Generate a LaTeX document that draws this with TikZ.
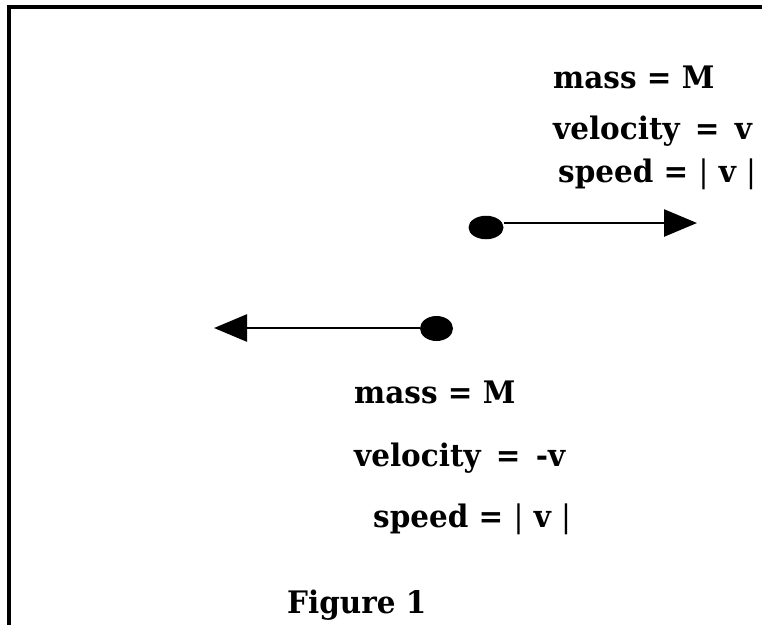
\documentclass[tikz,border=0pt]{standalone}
\usepackage{fontspec}
\setmainfont[FakeStretch=0.95]{DejaVu Serif}
\usetikzlibrary{arrows.meta,shapes.geometric}
\tikzset{
  frame/.style={line width=4.5pt,line join=miter},
  dot/.style={ellipse,fill=black,inner sep=0pt},
  arr/.style={line width=2.6pt,-{Triangle[length=33pt,width=27pt]}},
  lbl/.style={anchor=base west,inner sep=0pt,font=\bfseries\fontsize{31}{36}\selectfont}
}
\newcommand{\vbar}{{\mdseries|}}
\newcommand{\weq}{\kern5pt\ =\ \kern5pt}
\begin{document}
\begin{tikzpicture}[x=1pt,y=-1pt]
\useasboundingbox (0,0) rectangle (762,624);
\draw[frame] (9,640) -- (9,7) -- (770,7);
% upper body
\node[dot,minimum width=35pt,minimum height=23.5pt] (dot1) at (486,227.5) {};
\coordinate (tip1) at (697,223);
\draw[arr] (dot1.east |- tip1) -- (tip1);
\node[lbl] (m1) at (553,88) {mass = M};
\node[lbl] (v1) at (553,139) {velocity\weq v};
\node[lbl] (s1) at (558,182) {speed = \vbar\ v \vbar};
% lower body
\node[dot,minimum width=33pt,minimum height=25pt] (dot2) at (436.5,328.5) {};
\coordinate (tip2) at (214,328);
\draw[arr] (dot2.west |- tip2) -- (tip2);
\node[lbl] (m2) at (354,403) {mass = M};
\node[lbl] (v2) at (354,466) {velocity\weq -v};
\node[lbl] (s2) at (373,527) {speed = \vbar\ v \vbar};
\node[lbl] (fig) at (287,613) {Figure 1};
\end{tikzpicture}
\end{document}
